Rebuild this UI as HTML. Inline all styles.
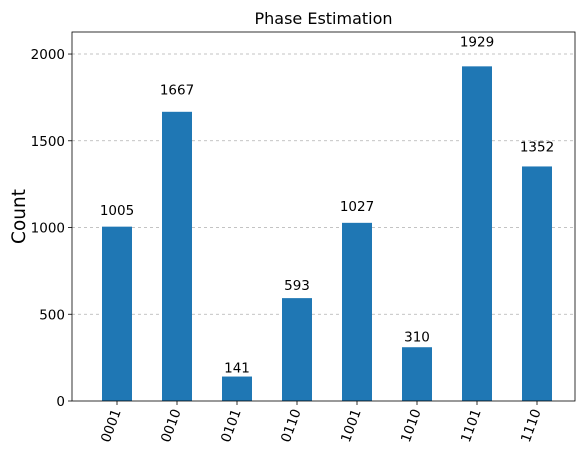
<!DOCTYPE html>
<html><head><meta charset="utf-8"><style>
body{margin:0;background:#fff;}
svg{display:block;font-family:"DejaVu Sans","Liberation Sans",sans-serif;}
</style></head><body>
<svg id="chart" width="585" height="459"></svg>
<script>
const categories=["0001","0010","0101","0110","1001","1010","1101","1110"];
const counts=[1005,1667,141,593,1027,310,1929,1352];
const yTicks=[0,500,1000,1500,2000];
const NS="http://www.w3.org/2000/svg";
const svg=document.getElementById("chart");
const L=72,R=575,T=32,B=401,yMax=2127;
const y=v=>B-(B-T)*v/yMax;
const x=i=>117+60*i;
function mk(tag,attrs,parent){const e=document.createElementNS(NS,tag);for(const k in attrs)e.setAttribute(k,attrs[k]);(parent||svg).appendChild(e);return e;}
const grid=mk("g",{});


yTicks.forEach(t=>{
  if(t>0){const g=mk("line",{x1:L,x2:R,y1:y(t),y2:y(t),stroke:"#b0b0b0","stroke-dasharray":"3,3","stroke-width":0.8},grid);
  }
  const tk=mk("line",{x1:L-4,x2:L,y1:y(t),y2:y(t),stroke:"#000","stroke-width":0.8});
  
  const tl=mk("text",{x:L-7,y:y(t)+5,"text-anchor":"end","font-size":13.5});
  tl.textContent=t;
  
});
categories.forEach((c,i)=>{
  const b=mk("rect",{x:x(i)-15,y:y(counts[i]),width:30,height:B-y(counts[i]),fill:"#1f77b4"});
  
  const v=mk("text",{x:x(i),y:y(counts[i]*1.05)-3,"text-anchor":"middle","font-size":13.5});
  v.textContent=counts[i];
  
  const tk=mk("line",{x1:x(i),x2:x(i),y1:B,y2:B+4,stroke:"#000","stroke-width":0.8});
  
  const tl=mk("text",{x:0,y:0,"text-anchor":"end","font-size":13.5,transform:`translate(${x(i)+4},${B+10}) rotate(-70)`});
  tl.textContent=c;
  
});
const frame=mk("rect",{x:L,y:T,width:R-L,height:B-T,fill:"none",stroke:"#000","stroke-width":0.8});

const title=mk("text",{x:(L+R)/2,y:24,"text-anchor":"middle","font-size":16});
title.textContent="Phase Estimation";

const yl=mk("text",{x:0,y:0,"text-anchor":"middle","font-size":18.5,transform:`translate(25,${(T+B)/2}) rotate(-90)`});
yl.textContent="Count";

</script>
</body></html>
